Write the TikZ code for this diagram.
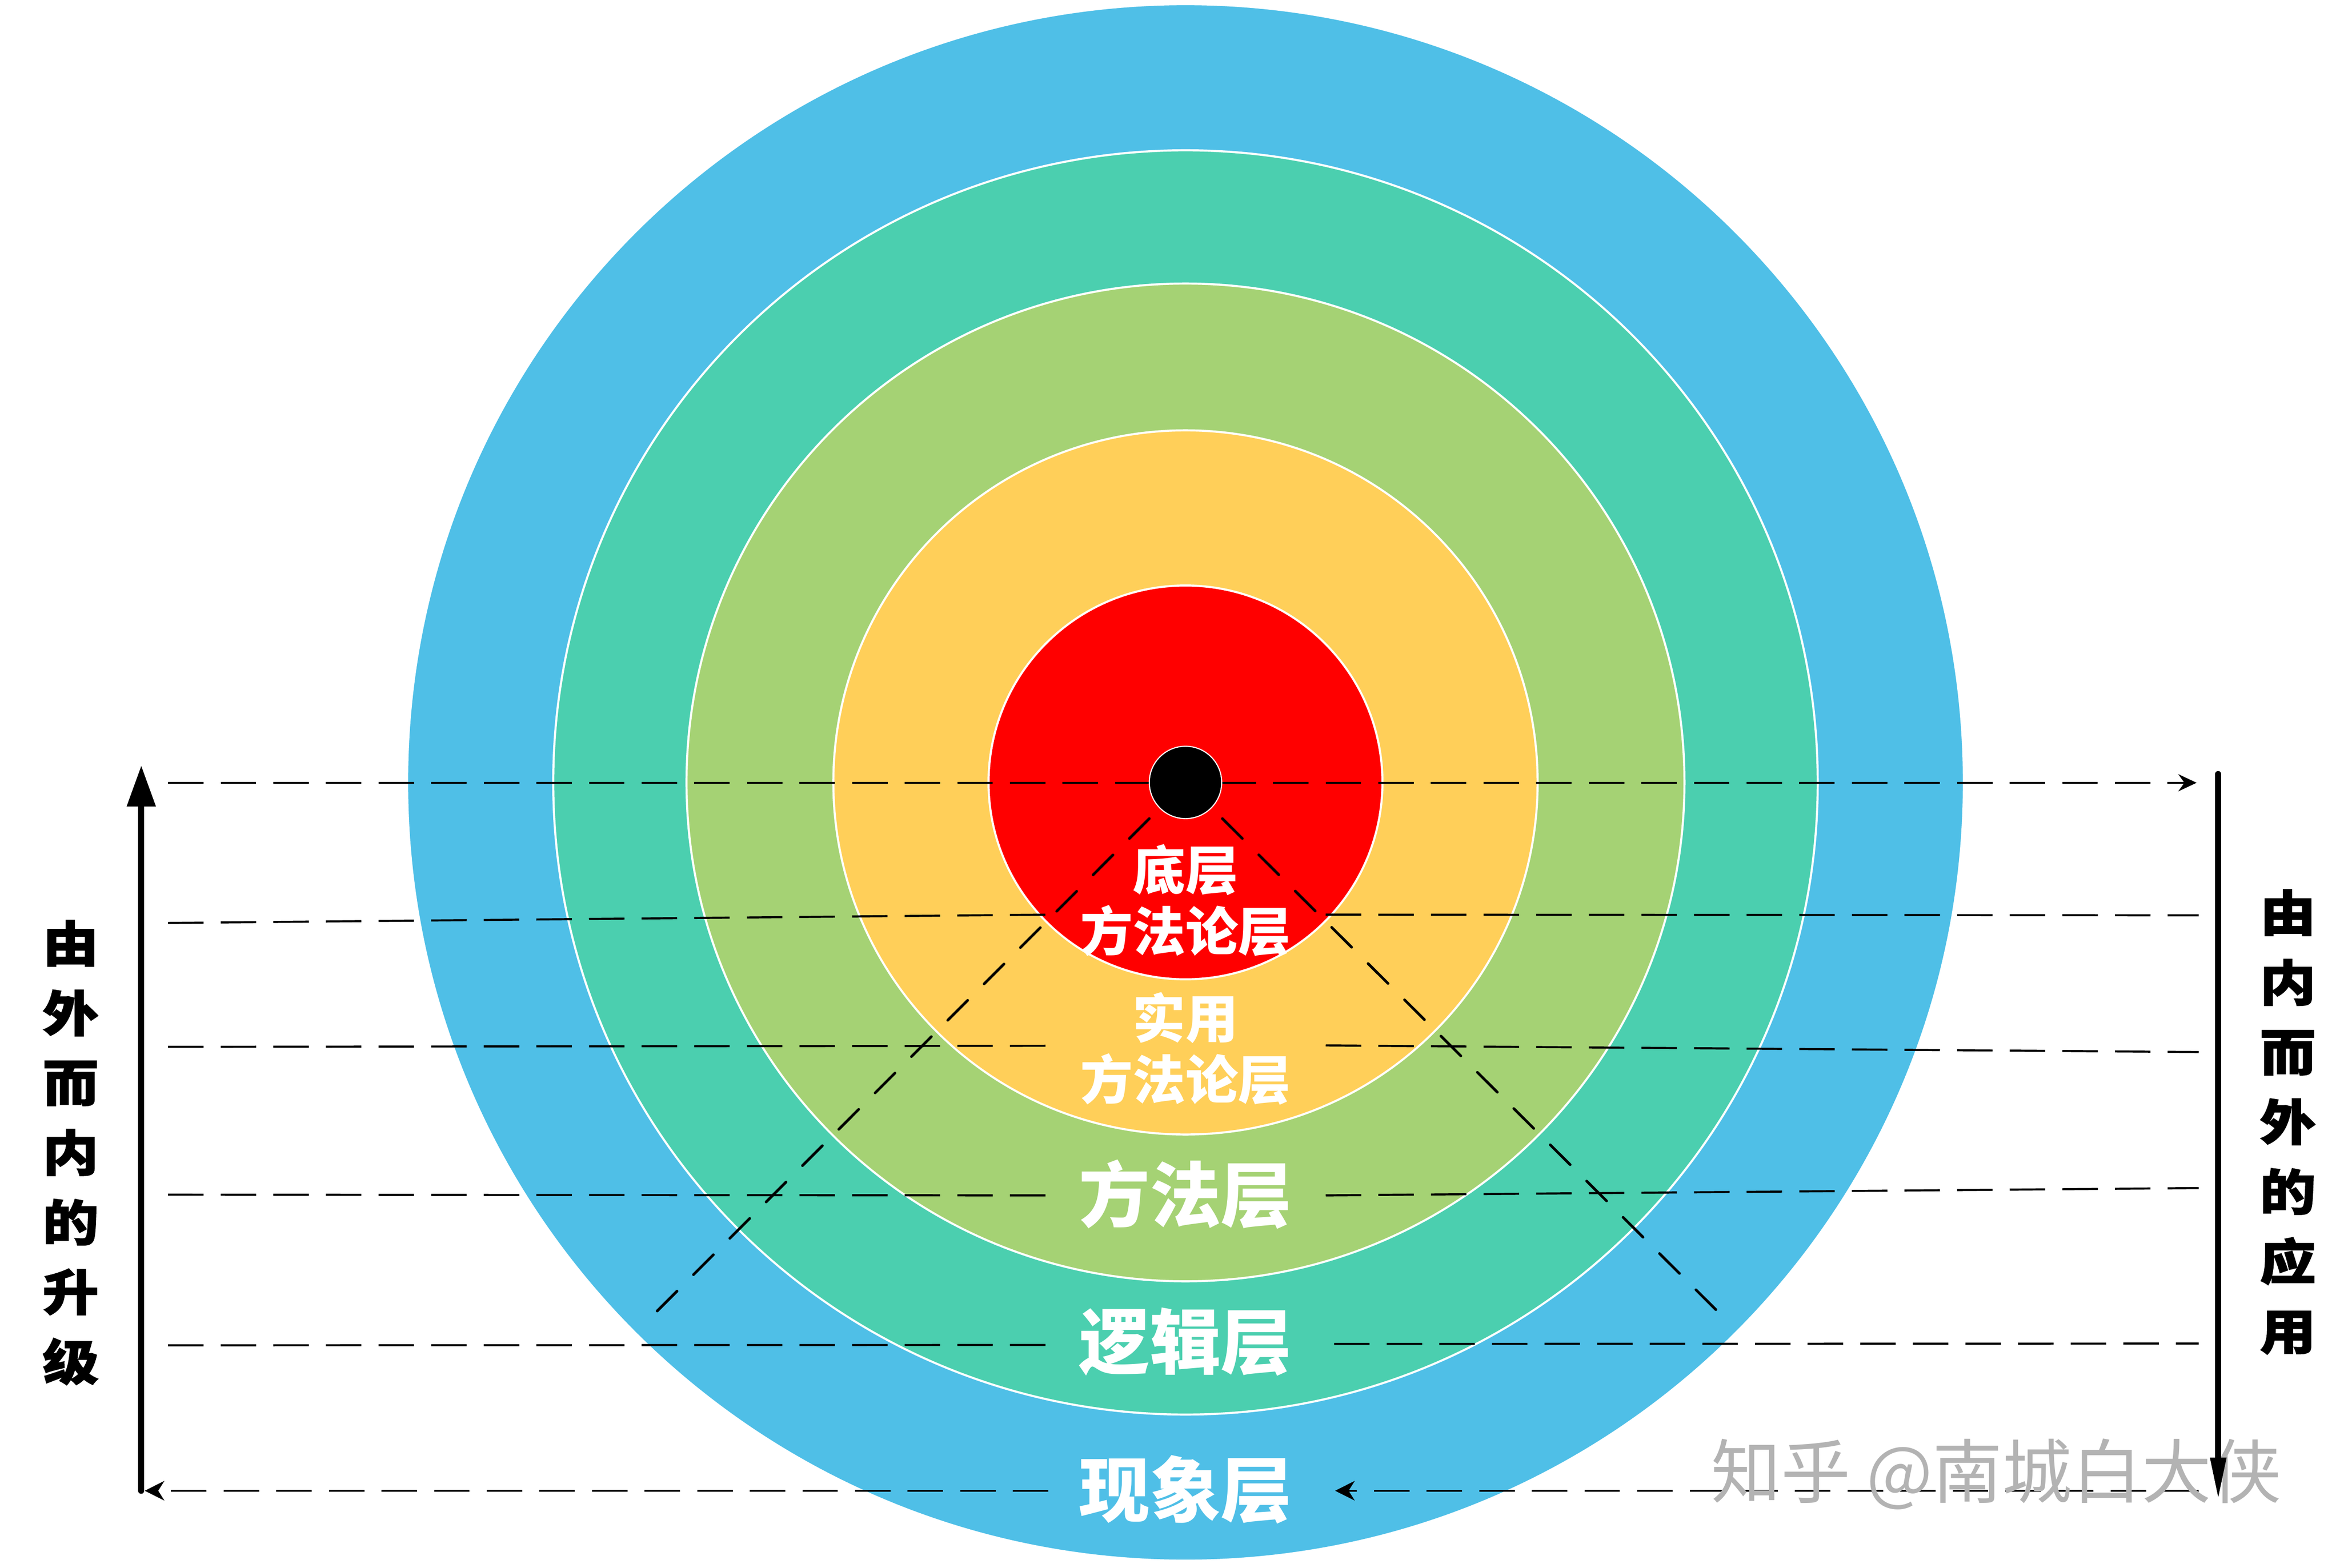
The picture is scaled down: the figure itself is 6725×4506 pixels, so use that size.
\documentclass[tikz,border=0pt]{standalone}
\usepackage{fontspec}
\newfontfamily\cjk{Noto Sans CJK SC}
\newfontfamily\cjkwide{Noto Sans CJK SC}[BoldFeatures={FakeBold=1.5,FakeStretch=1.15}]
\usetikzlibrary{arrows.meta}

\definecolor{ringblue}{HTML}{4FBFE7}
\definecolor{ringteal}{HTML}{4BCFAF}
\definecolor{ringgreen}{HTML}{A5D274}
\definecolor{ringyellow}{HTML}{FFCF59}
\definecolor{ringred}{HTML}{FF0000}
\definecolor{markgray}{HTML}{B3B3B3}

\tikzset{
  ringline/.style={draw=white,line width=1.7pt},
  guideline/.style={line width=1.7pt,dash pattern=on 29pt off 14pt},
  rayline/.style={line width=2.2pt,line cap=round,dash pattern=on 23pt off 19pt},
  bigline/.style={line width=5pt,line cap=round},
  coretext/.style={text=white,font=\cjk\bfseries\fontsize{43}{50}\selectfont,align=center,inner sep=0pt},
  layertext/.style={text=white,font=\cjk\bfseries\fontsize{58}{58}\selectfont,inner sep=0pt},
  sidetext/.style={font=\cjkwide\bfseries\fontsize{40}{57}\selectfont,align=center,inner sep=0pt},
}

\begin{document}
\begin{tikzpicture}[x=0.01cm,y=-0.01cm]
			\useasboundingbox (0,0) rectangle (6725,4506);
			\fill[white] (0,0) rectangle (6725,4506);
			
			% Rings
			\coordinate (C) at (3407,2249);
			\foreach \r/\c in {2237/ringblue,1817/ringteal,1434/ringgreen,1012/ringyellow,566/ringred}
				\filldraw[ringline,fill=\c] (C) circle[radius=\r];
			
			% Labels
			\node[coretext] (core) at (3407,2588) {底层\\方法论层};
			\node[coretext] (usage) at (3407,3014) {实用\\方法论层};
			\node[layertext] (method) at (3407,3433) {方法层};
			\node[layertext] (logic) at (3407,3857) {逻辑层};
			\node[layertext] (scene) at (3407,4282) {现象层};
			
			% Guide lines
			\coordinate (L0) at (483,2250);
			\coordinate (R0) at (6313,2250);
			\draw[guideline,-{Stealth[length=15pt,width=14pt,inset=5pt]}] (L0) -- (R0);
			\foreach \a/\b/\c/\d/\xc in {2653/2629/2629/2631/3810,3009/3006/3005/3024/3810,3434/3436/3436/3415/3810,3867/3866/3863/3862/3834}{
				\draw[guideline] (483,\a) -- (3013,\b);
				\draw[guideline] (\xc,\c) -- (6319,\d);
			}
			\coordinate (B0) at (3013,4285);
			\coordinate (B1) at (416,4285);
			\coordinate (B2) at (6319,4285);
			\coordinate (B3) at (3837,4285);
			\draw[guideline,-{Stealth[length=16pt,width=16pt,inset=5pt]}] (B0) -- (B1);
			\draw[guideline,-{Stealth[length=16pt,width=16pt,inset=5pt]}] (B2) -- (B3);
			
			% Rays
			\draw[rayline] (3303,2353) -- (1857,3800);
			\draw[rayline] (3513,2353) -- (4967,3800);
			
			% Centre
			\filldraw[fill=black,draw=white,line width=0.9pt] (C) circle[radius=104];
			
			% Watermark
			\node[text=markgray,font=\cjk\fontsize{57}{57}\selectfont,inner sep=0pt] (mark) at (5737,4238) {知乎 @南城白大侠};
			
			% Arrows
			\coordinate (upbot) at (406,4285);
			\coordinate (uptop) at (406,2200);
			\coordinate (downtop) at (6375,2225);
			\coordinate (downbot) at (6375,4313);
			\draw[bigline,-{Triangle[length=33.6pt,width=22.5pt]}] (upbot) -- (uptop);
			\draw[bigline,-{Triangle[length=35pt,width=12pt]}] (downtop) -- (downbot);
			\node[sidetext] (upward) at (203,3313) {由\\外\\而\\内\\的\\升\\级};
			\node[sidetext] (outward) at (6575,3225) {由\\内\\而\\外\\的\\应\\用};
		\end{tikzpicture}
\end{document}
